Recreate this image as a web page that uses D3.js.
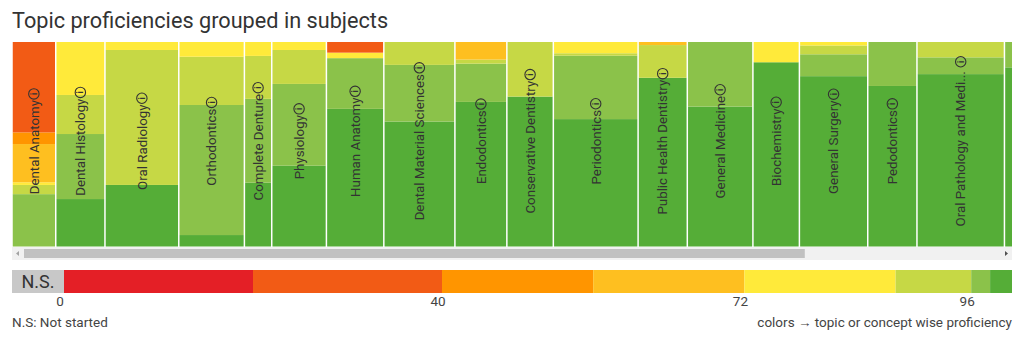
<!DOCTYPE html>
<html>
<head>
  <meta charset="utf-8">
  <title>Topic proficiencies grouped in subjects</title>
  <script src="https://cdn.jsdelivr.net/npm/d3@7"></script>
  <style>
    html, body {
      margin: 0;
      padding: 0;
      background: #fff;
    }
    svg {
      display: block;
      font-family: Roboto, "Open Sans", sans-serif;
    }
    .title {
      font-size: 21.7px;
      fill: #333;
    }
    .subject-label {
      font-size: 13.3px;
      fill: #333;
    }
    .legend-text {
      font-size: 13.5px;
      fill: #444;
    }
  </style>
</head>
<body>
  <svg id="chart" width="1024" height="346"></svg>

  <script>
    // Subjects and how many topics each one holds (sets the column width)
    const subjects = [
      "Dental Anatomy", "Dental Histology", "Oral Radiology", "Orthodontics",
      "Complete Denture", "Physiology", "Human Anatomy", "Dental Material Sciences",
      "Endodontics", "Conservative Dentistry", "Periodontics", "Public Health Dentistry",
      "General Medicine", "Biochemistry", "General Surgery", "Pedodontics",
      "Oral Pathology and Medicine", "Prosthodontics"
    ];
    const topicCounts = [16, 18, 27, 24, 10, 20, 21, 26, 19, 17, 31, 18, 24, 17, 25, 18, 32, 20];

    // Share of topics (%) falling in each proficiency band, per subject
    const shareRed       = [0, 0, 0, 0, 0, 0, 0, 0, 0, 0, 0, 0, 0, 0, 0, 0, 0, 0];
    const shareDeepOrange= [44.2, 0, 0, 0, 0, 0, 5.2, 0, 0, 0, 0, 0, 0, 0, 0, 0, 0, 0];
    const shareOrange    = [5.7, 0, 0, 0, 0, 0, 0, 0, 0, 0, 0, 0, 0, 0, 0, 0, 0, 0];
    const shareAmber     = [18.7, 0, 0, 0, 0, 0, 0, 0, 8.6, 0, 0, 1.5, 0, 0, 0, 0, 0, 0];
    const shareYellow    = [1.3, 25.9, 3.9, 7.2, 6.8, 3.9, 2.7, 0, 0, 0, 5.5, 0, 0, 9.9, 1.7, 0, 0, 0];
    const shareLime      = [4.5, 19.1, 66.0, 23.6, 21.0, 16.6, 0, 11.2, 2.0, 26.7, 1.2, 16.0, 0, 0, 4.3, 0, 7.5, 0];
    const shareLightGreen= [25.6, 31.8, 0, 63.6, 41.0, 40.0, 24.8, 27.7, 18.7, 0, 31.0, 0, 31.6, 0, 10.7, 21.5, 8.2, 12.4];
    const shareGreen     = [0, 23.2, 30.1, 5.6, 31.2, 39.5, 67.3, 61.1, 70.7, 73.3, 62.3, 82.5, 68.4, 90.1, 83.3, 78.5, 84.3, 87.6];

    // Proficiency scale: band lower bounds, colours, labelled ticks
    const bandStarts = [0, 20, 40, 56, 72, 88, 96, 98, 100];
    const bandColors = ["#e41f26", "#f25b15", "#ff9500", "#febf20", "#ffea3a", "#c6d845", "#8bc24a", "#55ad37"];
    const bandKeys = ["red", "deepOrange", "orange", "amber", "yellow", "lime", "lightGreen", "green"];
    const tickValues = [0, 40, 72, 96];

    const viewLeft = 12, viewRight = 1012;
    const plotTop = 42, plotBottom = 246.5;
    const pxPerTopic = 2.734;
    const scrollContentWidth = 1250; // full scrollable width of the subject strip

    const svg = d3.select("#chart");

    svg.append("text")
      .attr("class", "title")
      .attr("x", 12)
      .attr("y", 28)
      .text("Topic proficiencies grouped in subjects");

    // rows for the stack, one per subject
    const shareArrays = [shareRed, shareDeepOrange, shareOrange, shareAmber,
                         shareYellow, shareLime, shareLightGreen, shareGreen];
    let cum = 0;
    const rows = subjects.map((name, i) => {
      const row = { name: name, start: cum, count: topicCounts[i] };
      bandKeys.forEach((k, j) => row[k] = shareArrays[j][i]);
      cum += topicCounts[i];
      return row;
    });

    const x = d3.scaleLinear()
      .domain([0, cum])
      .range([viewLeft, viewLeft + cum * pxPerTopic]);

    const y = d3.scaleLinear()
      .domain([0, 100])
      .range([plotBottom, plotTop]);

    const color = d3.scaleOrdinal().domain(bandKeys).range(bandColors);

    // best band at the bottom, worst on top
    const stack = d3.stack().keys(bandKeys.slice().reverse());
    const series = stack(rows);

    svg.append("clipPath").attr("id", "view")
      .append("rect")
      .attr("x", viewLeft).attr("y", plotTop - 1)
      .attr("width", viewRight - viewLeft).attr("height", plotBottom - plotTop + 2);

    const plot = svg.append("g").attr("clip-path", "url(#view)");

    plot.selectAll("g.band")
      .data(series)
      .join("g")
      .attr("class", "band")
      .attr("fill", d => color(d.key))
      .selectAll("rect")
      .data(d => d.filter(s => s[1] - s[0] > 0))
      .join("rect")
      .attr("x", d => x(d.data.start) + 0.75)
      .attr("width", d => x(d.data.start + d.data.count) - x(d.data.start) - 1.5)
      .attr("y", d => y(d[1]))
      .attr("height", d => y(d[0]) - y(d[1]));

    // rotated subject names with an info icon (only columns scrolled into view)
    const visibleRows = rows.filter(d => x(d.start + d.count / 2) < viewRight);
    const labels = plot.selectAll("g.subject")
      .data(visibleRows)
      .join("g")
      .attr("class", "subject")
      .attr("transform", d => `translate(${x(d.start + d.count / 2)},141.5) rotate(-90)`);

    labels.each(function (d) {
      const g = d3.select(this);
      const shown = d.name.length > 24 ? d.name.slice(0, 23) + "... " : d.name;
      const t = g.append("text")
        .attr("class", "subject-label")
        .attr("xml:space", "preserve")
        .attr("dy", "0.36em")
        .text(shown);
      const w = t.node().getComputedTextLength();
      const r = 5.2, gap = 1;
      const total = w + gap + 2 * r;
      t.attr("x", -total / 2);
      const cx = -total / 2 + w + gap + r;
      g.append("circle")
        .attr("cx", cx).attr("cy", 0).attr("r", r)
        .attr("fill", "none").attr("stroke", "#333").attr("stroke-width", 1.1);
      g.append("text")
        .attr("x", cx).attr("y", 0).attr("dy", "0.35em")
        .attr("text-anchor", "middle")
        .attr("font-size", 8.5).attr("font-weight", "bold").attr("fill", "#333")
        .text("i");
    });

    // horizontal scrollbar under the strip
    const sbTop = 247, sbH = 13, arrowW = 12;
    const sb = svg.append("g");
    sb.append("rect")
      .attr("x", viewLeft).attr("y", sbTop)
      .attr("width", viewRight - viewLeft).attr("height", sbH)
      .attr("fill", "#f1f1f1");
    const trackW = viewRight - viewLeft - 2 * arrowW;
    sb.append("rect")
      .attr("x", viewLeft + arrowW).attr("y", sbTop + 2)
      .attr("width", trackW * (viewRight - viewLeft) / scrollContentWidth)
      .attr("height", sbH - 4)
      .attr("fill", "#c1c1c1");
    const mid = sbTop + sbH / 2;
    sb.append("path")
      .attr("d", `M${viewLeft + 4},${mid} l3,-2.5 v5 z`)
      .attr("fill", "#a3a3a3");
    sb.append("path")
      .attr("d", `M${viewRight - 4},${mid} l-3,-2.5 v5 z`)
      .attr("fill", "#505050");

    // colour legend
    const lx = d3.scaleLinear().domain([0, 100]).range([64, 1009]);
    const legTop = 270, legH = 23;
    const legend = svg.append("g");

    legend.append("rect")
      .attr("x", viewLeft).attr("y", legTop)
      .attr("width", lx(0) - viewLeft).attr("height", legH)
      .attr("fill", "#c8c8c8");
    legend.append("text")
      .attr("x", (viewLeft + lx(0)) / 2).attr("y", legTop + legH / 2)
      .attr("dy", "0.36em")
      .attr("text-anchor", "middle")
      .attr("font-size", 18).attr("fill", "#333")
      .text("N.S.");

    const bands = bandColors.map((c, i) => ({
      color: c,
      x0: lx(bandStarts[i]),
      x1: i === bandColors.length - 1 ? viewRight : lx(bandStarts[i + 1])
    }));

    legend.selectAll("rect.band")
      .data(bands)
      .join("rect")
      .attr("class", "band")
      .attr("x", d => d.x0).attr("y", legTop)
      .attr("width", d => d.x1 - d.x0).attr("height", legH)
      .attr("fill", d => d.color);

    legend.selectAll("text.tick")
      .data(tickValues)
      .join("text")
      .attr("class", "legend-text tick")
      .attr("x", d => lx(d) - 4).attr("y", 306)
      .attr("text-anchor", "middle")
      .text(d => d);

    legend.append("text")
      .attr("class", "legend-text")
      .attr("x", 12).attr("y", 327)
      .text("N.S: Not started");

    legend.append("text")
      .attr("class", "legend-text")
      .attr("x", viewRight).attr("y", 327)
      .attr("text-anchor", "end")
      .text("colors \u2192 topic or concept wise proficiency");
  </script>
</body>
</html>
